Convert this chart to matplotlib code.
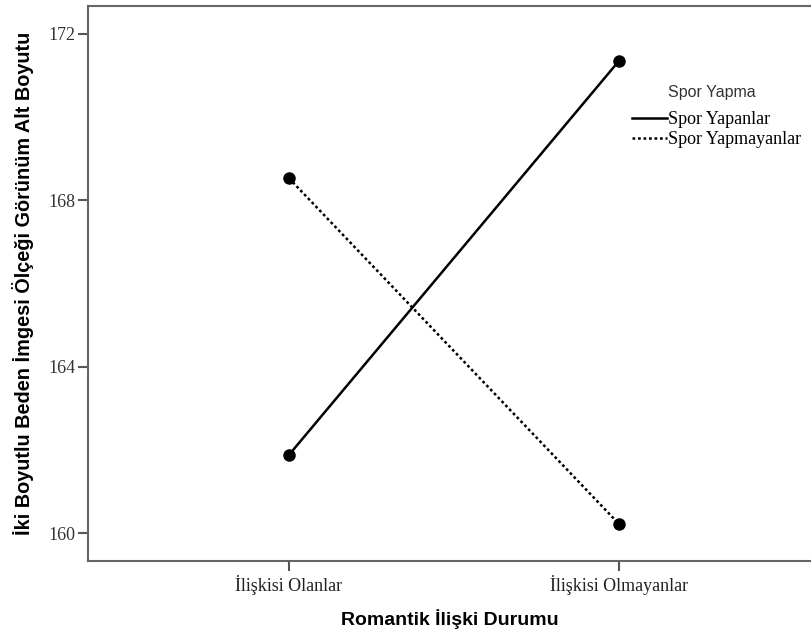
import matplotlib
matplotlib.use("Agg")
import matplotlib.pyplot as plt
from matplotlib.lines import Line2D

categories = ["İlişkisi Olanlar", "İlişkisi Olmayanlar"]
spor_yapanlar = [161.88, 171.35]
spor_yapmayanlar = [168.53, 160.22]
y_ticks = [160, 164, 168, 172]
series_names = ["Spor Yapanlar", "Spor Yapmayanlar"]

SERIF = ["Liberation Serif", "DejaVu Serif"]
SANS = ["Liberation Sans", "DejaVu Sans"]
DOTS = (0, (1.1, 1.1))

fig = plt.figure(figsize=(8.11, 6.34), dpi=100)
ax = fig.add_axes([88 / 811, 1 - 561 / 634, 1 - 88 / 811, (561 - 6) / 634])

x = list(range(len(categories)))
ax.plot(x, spor_yapanlar, color="black", lw=1.8, ls="-", marker="o", ms=8)
ax.plot(x, spor_yapmayanlar, color="black", lw=1.8, ls=DOTS, marker="o", ms=8)

ax.set_xlim(-0.609, 1.582)
ax.set_ylim(159.33, 172.67)
ax.set_xticks(x)
ax.set_xticklabels(categories, family=SERIF, fontsize=13, color="#222222")
ax.set_yticks(y_ticks)
ax.set_yticklabels([str(t) for t in y_ticks], family=SERIF, fontsize=13, color="#333333")

for s in ["left", "bottom", "top"]:
    ax.spines[s].set_color("#666666")
    ax.spines[s].set_linewidth(1.5)
ax.spines["right"].set_visible(False)
ax.tick_params(axis="both", direction="out", length=7, width=1.5, color="#555555")
ax.tick_params(axis="x", pad=3)
ax.tick_params(axis="y", pad=2)

ax.set_xlabel("Romantik İlişki Durumu", family=SANS, fontsize=14, fontweight="bold", labelpad=10)
ax.set_ylabel("İki Boyutlu Beden İmgesi Ölçeği Görünüm Alt Boyutu", family=SANS,
              fontsize=14.3, fontweight="bold", labelpad=10)

handles = [Line2D([], [], color="black", lw=1.8, ls="-"),
           Line2D([], [], color="black", lw=1.8, ls=DOTS)]
fig.legend(handles, series_names, loc="upper left", bbox_to_anchor=(632 / 811, 1 - 111.5 / 634),
           frameon=False, prop={"family": SERIF, "size": 13}, handlelength=1.95,
           handletextpad=0.05, labelspacing=0.15, borderpad=0, borderaxespad=0)
fig.text(668 / 811, 1 - 92 / 634, "Spor Yapma", family=SANS, fontsize=11.5, color="#333333",
         ha="left", va="center")

fig.savefig("out.png", dpi=100)
